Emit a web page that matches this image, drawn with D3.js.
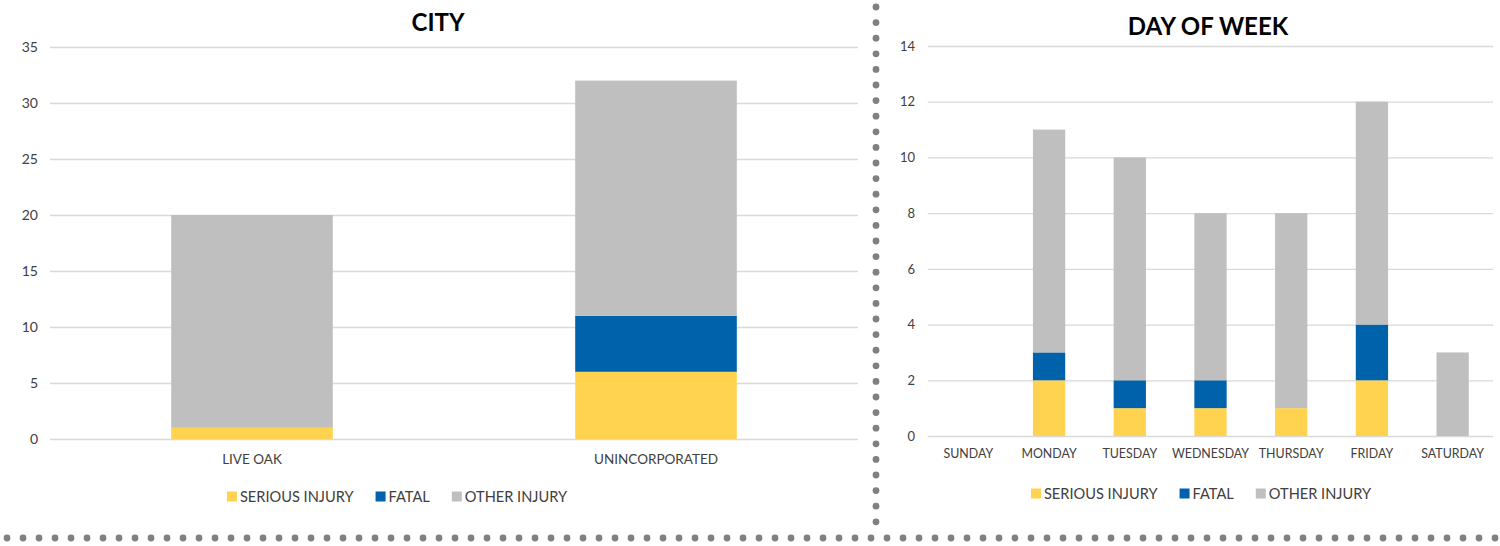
<!DOCTYPE html>
<html>
<head>
<meta charset="utf-8">
<script src="https://cdn.jsdelivr.net/npm/d3@7"></script>
<style>
  body { margin: 0; background: #fff; }
  svg text { font-family: Lato, "Open Sans", sans-serif; fill: #404040; }
</style>
</head>
<body>
<div id="chart"></div>
<script>
// data
var series = ['SERIOUS INJURY', 'FATAL', 'OTHER INJURY']
var colors = ['#FFD34F', '#0062AB', '#BFBFBF']

var cities = ['LIVE OAK', 'UNINCORPORATED']
var citySerious = [1, 6]
var cityFatal = [0, 5]
var cityOther = [19, 21]
var cityTicks = [0, 5, 10, 15, 20, 25, 30, 35]

var days = ['SUNDAY', 'MONDAY', 'TUESDAY', 'WEDNESDAY', 'THURSDAY', 'FRIDAY', 'SATURDAY']
var daySerious = [0, 2, 1, 1, 1, 2, 0]
var dayFatal = [0, 1, 1, 1, 0, 2, 0]
var dayOther = [0, 8, 8, 6, 7, 8, 3]
var dayTicks = [0, 2, 4, 6, 8, 10, 12, 14]

var svg = d3.select('#chart').append('svg')
    .attr('width', 1500)
    .attr('height', 546)

function drawChart(opt) {
    var rows = opt.cats.map(function (c, i) {
        return { cat: c, s0: opt.vals[0][i], s1: opt.vals[1][i], s2: opt.vals[2][i] }
    })
    var stack = d3.stack().keys(['s0', 's1', 's2'])(rows)

    var x = d3.scaleBand()
        .domain(opt.cats)
        .range([opt.left, opt.right])
        .paddingInner(0.6)
        .paddingOuter(0.3)
    var y = d3.scaleLinear()
        .domain([0, d3.max(opt.ticks)])
        .range([opt.bottom, opt.top])

    var g = svg.append('g')

    // gridlines
    var yaxis = d3.axisLeft(y)
        .tickValues(opt.ticks)
        .tickSize(-(opt.right - opt.left))
        .tickPadding(opt.labelGap)
    g.append('g')
        .attr('transform', `translate(${opt.left},0)`)
        .call(yaxis)
        .call(function (a) {
            a.select('.domain').remove()
            a.selectAll('line').attr('stroke', '#D9D9D9').attr('stroke-width', 1.3)
            a.selectAll('text').attr('font-size', opt.ySize).attr('fill', '#404040')
        })

    g.selectAll('.layer').data(stack).enter().append('g')
        .attr('fill', function (d, i) { return colors[i] })
        .selectAll('rect').data(function (d) { return d }).enter().append('rect')
        .attr('x', function (d) { return x(d.data.cat) })
        .attr('width', x.bandwidth())
        .attr('y', function (d) { return y(d[1]) })
        .attr('height', function (d) { return y(d[0]) - y(d[1]) })

    var xaxis = d3.axisBottom(x).tickSize(0).tickPadding(opt.catGap)
    g.append('g')
        .attr('transform', `translate(0,${opt.bottom})`)
        .call(xaxis)
        .call(function (a) {
            a.select('.domain').remove()
            a.selectAll('text').attr('font-size', opt.catSize).attr('fill', '#404040')
        })

    g.append('text')
        .attr('x', opt.titleX)
        .attr('y', opt.titleY)
        .attr('text-anchor', 'middle')
        .attr('font-size', 24)
        .attr('font-weight', 'bold')
        .style('fill', '#000')
        .text(opt.title)

    // legend
    var leg = g.append('g')
    var cx = 0
    series.forEach(function (s, i) {
        var it = leg.append('g').attr('transform', `translate(${cx},0)`)
        it.append('rect').attr('x', 0).attr('y', -10.5).attr('width', 10).attr('height', 10).attr('fill', colors[i])
        var t = it.append('text').attr('x', 13).attr('y', 0).attr('font-size', 14.6).text(s)
        cx += 13 + t.node().getComputedTextLength() + 22
    })
    var w = cx - 22
    leg.attr('transform', `translate(${opt.legX - w / 2},${opt.legY})`)
}

drawChart({
    cats: cities, vals: [citySerious, cityFatal, cityOther], ticks: cityTicks,
    left: 50, right: 858, top: 47, bottom: 439, labelGap: 12, catGap: 15,
    ySize: 14, catSize: 13.5,
    title: 'CITY', titleX: 438, titleY: 31, legX: 397, legY: 502
})
drawChart({
    cats: days, vals: [daySerious, dayFatal, dayOther], ticks: dayTicks,
    left: 928, right: 1493, top: 46, bottom: 436, labelGap: 13, catGap: 13,
    ySize: 13, catSize: 12.4,
    title: 'DAY OF WEEK', titleX: 1208, titleY: 35, legX: 1201, legY: 499
})

// dotted separators
svg.append('g').selectAll('circle').data(d3.range(7, 1500, 16)).enter().append('circle')
    .attr('cx', function (d) { return d }).attr('cy', 538).attr('r', 3.4).attr('fill', '#808080')
svg.append('g').selectAll('circle').data(d3.range(7, 522, 15.6)).enter().append('circle')
    .attr('cx', 876).attr('cy', function (d) { return d }).attr('r', 3.4).attr('fill', '#808080')
</script>
</body>
</html>
